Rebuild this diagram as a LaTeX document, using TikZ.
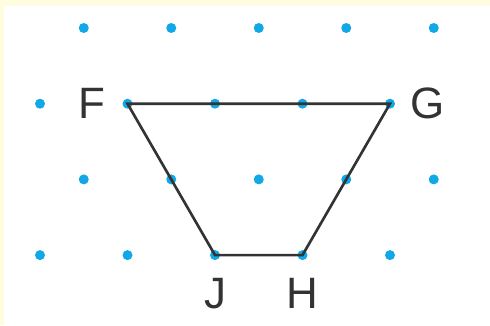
\documentclass[tikz,border=0pt]{standalone}
\usepackage{fontspec}
\setmainfont{Liberation Sans}
\usepackage{xcolor}
\usepackage{tikz}
\usetikzlibrary{positioning}
\definecolor{dotblue}{HTML}{10A8E6}
\definecolor{cream}{HTML}{FFFCE0}
\definecolor{ink}{HTML}{333333}

\begin{document}
\begin{tikzpicture}[
  x=0.02cm, y=-0.02cm,
  gdot/.style={circle, fill=dotblue, inner sep=0pt, minimum size=0.2cm},
  lab/.style={text=ink, inner sep=0pt, font=\fontsize{25}{30}\selectfont},
  edge/.style={draw=ink, line width=1.5pt, line join=miter}]

  \fill[cream] (0,0) rectangle (490,325);
  \fill[white] (4,6) rectangle (490,325);
  \useasboundingbox (0,0) rectangle (490,325);

  % dot grid
  \foreach \c in {0,...,4} {
    \node[gdot] (a\c) at (83.75+87.5*\c, 28) {};
    \node[gdot] (b\c) at (40+87.5*\c, 103.7) {};
    \node[gdot] (c\c) at (83.75+87.5*\c, 179.4) {};
    \node[gdot] (d\c) at (40+87.5*\c, 255.1) {};
  }

  \node[lab, left=0.32cm of b1] (F) {F};
  \node[lab, right=0.30cm of b4] (G) {G};
  \node[lab, below=0.34cm of d2] (J) {J};
  \node[lab, below=0.34cm of d3] (H) {H};

  \draw[edge] (b1.center) -- (b4.center) -- (d3.center) -- (d2.center) -- cycle;
\end{tikzpicture}
\end{document}
